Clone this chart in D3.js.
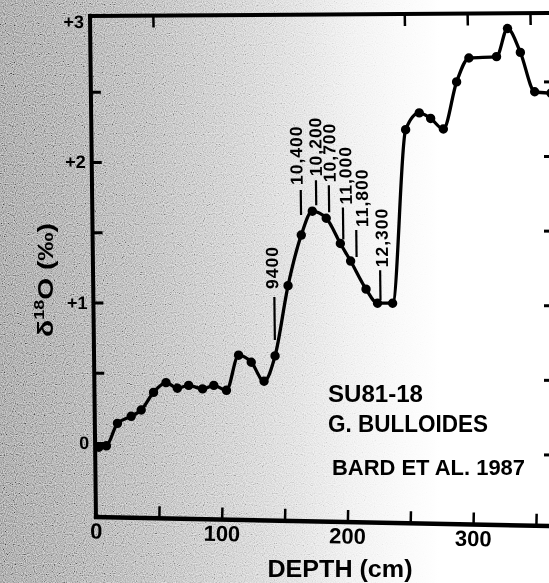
<!DOCTYPE html>
<html>
<head>
<meta charset="utf-8">
<script src="https://cdn.jsdelivr.net/npm/d3@7"></script>
<style>
  html, body { margin: 0; padding: 0; background: #fff; }
  svg { display: block; }
  text { font-family: "Liberation Sans", Arial, sans-serif; font-weight: bold; fill: #000; }
</style>
</head>
<body>
<svg id="chart" width="549" height="583"></svg>
<script>
// Core SU81-18, G. bulloides: oxygen isotope ratio against depth
const depthCm = [3, 9, 18, 29, 37, 47, 57, 66, 75, 86, 95, 105, 115, 125, 135, 144,
  155, 166, 175, 186, 197, 205, 217, 226, 238, 250, 261, 270, 280, 291, 301, 323,
  332, 342, 353, 366];
const d18O = [-0.03, -0.02, 0.14, 0.19, 0.235, 0.36, 0.43, 0.39, 0.41, 0.385, 0.41,
  0.375, 0.625, 0.575, 0.44, 0.62, 1.12, 1.48, 1.65, 1.60, 1.42, 1.295, 1.095, 0.995,
  0.995, 2.23, 2.35, 2.31, 2.235, 2.57, 2.74, 2.75, 2.95, 2.78, 2.50, 2.49];

// radiocarbon ages (yr BP) attached to dated levels
const ageLabels = ["9400", "10,400", "10,200", "10,700", "11,000", "11,800", "12,300"];
const ageDepths = [144, 166, 175, 186, 197, 205, 226];

// axis ticks and labels
const xLabelValues = [0, 100, 200, 300];
const xMinorValues = [50, 100, 150, 200, 250, 300, 350];
const xTopValues = [50, 250, 300, 350];
const yLabelValues = [0, 1, 2, 3];
const yLabels = ["0", "+1", "+2", "+3"];
const yMinorValues = [0, 0.5, 1, 1.5, 2, 2.5];
const rightTickValues = [0, 1, 2, 3, 4, 5];

const captionLines = ["SU81-18", "G. BULLOIDES"];
const sourceLine = "BARD ET AL. 1987";
const xTitle = "DEPTH (cm)";

const W = 549, H = 583;
const svg = d3.select("#chart");

const x = d3.scaleLinear().domain([0, 350]).range([96, 536]);
const y = d3.scaleLinear().domain([0, 3]).range([443, 21.5]);
const frameTop = 16, frameBottom = 517, frameRight = 570;

// ---- paper shading -------------------------------------------------------
const defs = svg.append("defs");
const grad = defs.append("linearGradient").attr("id", "shade")
  .attr("gradientUnits", "userSpaceOnUse").attr("x1", 0).attr("x2", W).attr("y1", 0).attr("y2", 0);
[[0, "#8e8e8e"], [0.11, "#999999"], [0.27, "#acacac"], [0.42, "#c3c3c3"],
 [0.55, "#dadada"], [0.64, "#ececec"], [0.73, "#f8f8f8"], [0.8, "#ffffff"]]
  .forEach(([o, c]) => grad.append("stop").attr("offset", o).attr("stop-color", c));

const grain = defs.append("filter").attr("id", "grain")
  .attr("x", 0).attr("y", 0).attr("width", "100%").attr("height", "100%");
grain.append("feTurbulence").attr("type", "fractalNoise").attr("baseFrequency", 0.9)
  .attr("numOctaves", 1).attr("seed", 4).attr("result", "n");
grain.append("feColorMatrix").attr("type", "matrix")
  .attr("values", "0.33 0.33 0.33 0 0  0.33 0.33 0.33 0 0  0.33 0.33 0.33 0 0  0 0 0 0 1");
const ct = grain.append("feComponentTransfer");
["R", "G", "B"].forEach(ch => ct.append("feFunc" + ch).attr("type", "linear").attr("slope", 2.6).attr("intercept", -0.8));

svg.append("rect").attr("width", W).attr("height", H).attr("fill", "url(#shade)");
svg.append("rect").attr("width", W).attr("height", H).attr("fill", "#fff")
  .attr("filter", "url(#grain)").style("mix-blend-mode", "overlay").attr("opacity", 0.7);

// ---- plot area (the frame leans slightly) -------------------------------
const lean = 0.0119;
const plot = svg.append("g")
  .attr("transform", `matrix(1,0,${lean},1,${-lean * 521},0)`);

// left axis
plot.append("line")
  .attr("x1", x(0)).attr("x2", x(0)).attr("y1", frameTop - 1).attr("y2", frameBottom + 2)
  .attr("stroke", "#000").attr("stroke-width", 4);

const leftTicks = plot.append("g").attr("transform", `translate(${x(0)},0)`)
  .call(d3.axisRight(y).tickValues(yMinorValues).tickSize(10).tickFormat(""));
leftTicks.select(".domain").remove();
leftTicks.selectAll("line").attr("stroke", "#000").attr("stroke-width", 3);

const leftLabels = plot.append("g").attr("transform", `translate(${x(0) - 3},0)`)
  .call(d3.axisLeft(y).tickValues(yLabelValues).tickSize(0).tickPadding(3)
    .tickFormat((d, i) => yLabels[i]));
leftLabels.select(".domain").remove();
leftLabels.selectAll("text").attr("font-family", null).attr("font-size", null)
  .style("font-size", "18px");

// top axis
const topAxis = plot.append("g")
  .attr("transform", `rotate(-0.38,${x(0)},${frameTop}) translate(0,${frameTop})`);
topAxis.append("line").attr("x1", x(0) - 2).attr("x2", frameRight).attr("y1", 0).attr("y2", 0)
  .attr("stroke", "#000").attr("stroke-width", 4);
const topTicks = topAxis.append("g")
  .call(d3.axisBottom(x).tickValues(xTopValues).tickSize(12).tickFormat(""));
topTicks.select(".domain").remove();
topTicks.selectAll("line").attr("stroke", "#000").attr("stroke-width", 2.5);

// record
const points = depthCm.map((d, i) => ({ depth: d, v: d18O[i] }));
const line = d3.line().x(d => x(d.depth)).y(d => y(d.v)).curve(d3.curveMonotoneX);
plot.append("path").datum(points).attr("d", line)
  .attr("fill", "none").attr("stroke", "#000").attr("stroke-width", 3.3)
  .attr("stroke-linejoin", "round").attr("stroke-linecap", "round");
plot.append("g").selectAll("circle").data(points).join("circle")
  .attr("cx", d => x(d.depth)).attr("cy", d => y(d.v)).attr("r", 4.7).attr("fill", "#000");

// age annotations: leader line above the dated level, age written upward
const leaderLayout = [
  { dx: 0, gap: 16, len: 43, tdx: -2, tgap: 8 },
  { dx: 0, gap: 20, len: 25, tdx: -4, tgap: 5 },
  { dx: 4, gap: 6, len: 25, tdx: 0, tgap: 4 },
  { dx: 3, gap: 6, len: 27, tdx: 1, tgap: 3 },
  { dx: 3, gap: 4, len: 32, tdx: 3, tgap: 3 },
  { dx: 6, gap: 4, len: 27, tdx: 6, tgap: 3 },
  { dx: 3, gap: 3, len: 30, tdx: 2, tgap: 3 }
];
const ages = ageLabels.map((label, i) => {
  const depth = ageDepths[i];
  const v = d18O[depthCm.indexOf(depth)];
  return { label, depth, v, lay: leaderLayout[i] };
});
const ageG = plot.append("g");
ageG.selectAll("line").data(ages).join("line")
  .attr("x1", d => x(d.depth) + d.lay.dx).attr("x2", d => x(d.depth) + d.lay.dx)
  .attr("y1", d => y(d.v) - d.lay.gap).attr("y2", d => y(d.v) - d.lay.gap - d.lay.len)
  .attr("stroke", "#000").attr("stroke-width", 2.2);
ageG.selectAll("text").data(ages).join("text")
  .attr("transform", d => `translate(${x(d.depth) + d.lay.dx + d.lay.tdx},${y(d.v) - d.lay.gap - d.lay.len - d.lay.tgap}) rotate(-90)`)
  .attr("dominant-baseline", "central")
  .style("font-size", "17.5px").style("letter-spacing", "1px")
  .text(d => d.label);

// ---- bottom axis (slightly tilted) ---------------------------------------
const bottom = svg.append("g")
  .attr("transform", `rotate(1.14,${x(0)},${frameBottom}) translate(0,${frameBottom})`);
bottom.append("line").attr("x1", x(0) - 2).attr("x2", frameRight).attr("y1", 0).attr("y2", 0)
  .attr("stroke", "#000").attr("stroke-width", 4.5);
const bTicks = bottom.append("g")
  .call(d3.axisTop(x).tickValues(xMinorValues).tickSize(12).tickFormat(""));
bTicks.select(".domain").remove();
bTicks.selectAll("line").attr("stroke", "#000").attr("stroke-width", 2.5);
const bLabels = bottom.append("g")
  .call(d3.axisBottom(x).tickValues(xLabelValues).tickSize(0).tickPadding(6).tickFormat(d3.format("d")));
bLabels.select(".domain").remove();
bLabels.selectAll("text").attr("font-family", null).attr("font-size", null)
  .style("font-size", "22px");

// right-hand axis ticks at the edge of the sheet
const yRight = d3.scaleLinear().domain([0, 5]).range([y(-0.085), y(2.57)]);
svg.append("g").selectAll("line").data(rightTickValues).join("line")
  .attr("x1", 544).attr("x2", 553).attr("y1", d => yRight(d)).attr("y2", d => yRight(d))
  .attr("stroke", "#000").attr("stroke-width", 3);

// ---- titles and captions -------------------------------------------------
const yTitle = svg.append("text")
  .attr("transform", "translate(53,280) rotate(-90)")
  .attr("text-anchor", "middle").style("font-size", "22px")
  .attr("textLength", 114).attr("lengthAdjust", "spacingAndGlyphs");
yTitle.append("tspan").text("δ");
yTitle.append("tspan").attr("dy", -9).style("font-size", "14px").text("18");
yTitle.append("tspan").attr("dy", 9).text("O (‰)");

svg.append("text").attr("x", 340).attr("y", 577).attr("text-anchor", "middle")
  .attr("textLength", 145).attr("lengthAdjust", "spacingAndGlyphs")
  .style("font-size", "24px").text(xTitle);

const capLengths = [95, 160];
const capBaselines = [402, 432];
captionLines.forEach((t, i) => {
  svg.append("text").attr("x", 328).attr("y", capBaselines[i])
    .attr("textLength", capLengths[i]).attr("lengthAdjust", "spacingAndGlyphs")
    .style("font-size", "24px").text(t);
});
svg.append("text").attr("x", 332).attr("y", 475)
  .attr("textLength", 193).attr("lengthAdjust", "spacingAndGlyphs")
  .style("font-size", "22px").text(sourceLine);
</script>
</body>
</html>
